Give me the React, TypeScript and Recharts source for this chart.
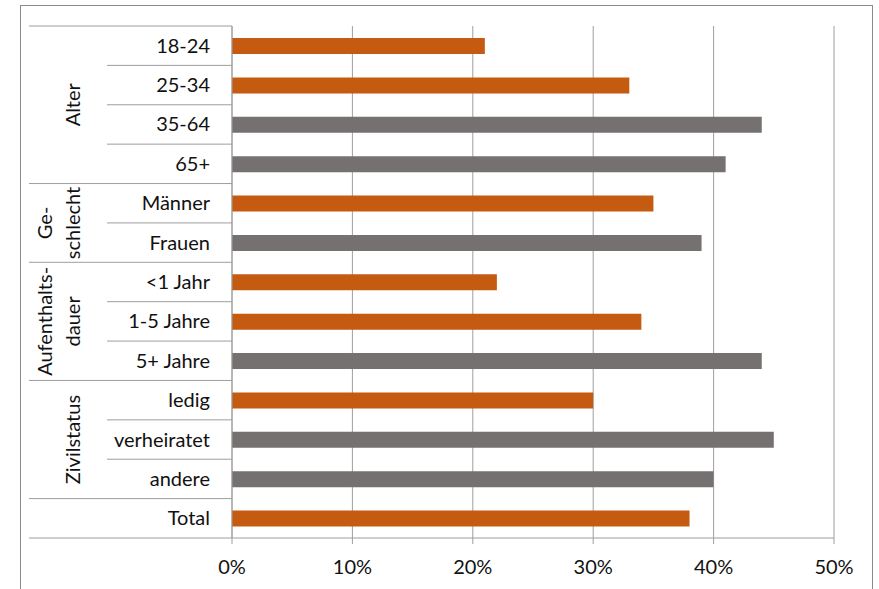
import React from 'react';
import { BarChart, Bar, XAxis, YAxis, CartesianGrid, Cell } from 'recharts';

// Share per respondent group, in percent
const categories = [
  '18-24', '25-34', '35-64', '65+',
  'Männer', 'Frauen',
  '<1 Jahr', '1-5 Jahre', '5+ Jahre',
  'ledig', 'verheiratet', 'andere',
  'Total',
];
const shares = [21, 33, 44, 41, 35, 39, 22, 34, 44, 30, 45, 40, 38];
const highlighted = [true, true, false, false, true, false, true, true, false, true, false, false, true];

// Outer grouping of the category axis (label lines, number of rows)
const groupLabels = [['Alter'], ['Ge-', 'schlecht'], ['Aufenthalts-', 'dauer'], ['Zivilstatus'], []];
const groupSizes = [4, 2, 3, 3, 1];

const xTicks = [0, 10, 20, 30, 40, 50];

const ORANGE = '#C55A11';
const GRAY = '#767171';
const LINE = '#9E9E9E';
const TEXT = '#111111';
const FONT = 'Lato, "Open Sans", sans-serif';
const FONT_SIZE = 20;

const W = 879;
const H = 589;
const AXIS_X = 232;
const OUTER_LEFT = 29;
const INNER_LEFT = 107;
const LABEL_RIGHT = 210;
const GROUP_BASE_X = 73;
const GROUP_LINE_GAP = 28;

const data = categories.map((label, i) => ({ label, value: shares[i] }));

// index of first row -> group index
const groupStarts: Record<number, number> = {};
{
  let acc = 0;
  groupSizes.forEach((s, g) => {
    groupStarts[acc] = g;
    acc += s;
  });
}

function CategoryTick(props: any) {
  const { y, payload, index, height } = props;
  const half =
    payload && typeof payload.offset === 'number' && payload.offset > 0
      ? payload.offset
      : height / (2 * categories.length);
  const top = y - half;
  const g = groupStarts[index];
  const isGroupStart = g !== undefined;
  const isLast = index === categories.length - 1;
  const lines = isGroupStart ? groupLabels[g] : [];
  const groupCenter = isGroupStart ? top + groupSizes[g] * half : 0;

  return (
    <g>
      <line
        x1={isGroupStart ? OUTER_LEFT : INNER_LEFT}
        x2={AXIS_X}
        y1={top}
        y2={top}
        stroke={LINE}
        strokeWidth={1}
      />
      {isLast && (
        <line x1={OUTER_LEFT} x2={AXIS_X} y1={y + half} y2={y + half} stroke={LINE} strokeWidth={1} />
      )}
      <text
        x={LABEL_RIGHT}
        y={y}
        dy="0.35em"
        textAnchor="end"
        fill={TEXT}
        fontSize={FONT_SIZE}
        fontFamily={FONT}
      >
        {payload.value}
      </text>
      {lines.map((t: string, i: number) => {
        const cx = GROUP_BASE_X - (lines.length - 1 - i) * GROUP_LINE_GAP;
        return (
          <text
            key={t}
            x={cx}
            y={groupCenter}
            dy="0.35em"
            textAnchor="middle"
            transform={`rotate(-90 ${cx} ${groupCenter})`}
            fill={TEXT}
            fontSize={FONT_SIZE}
            fontFamily={FONT}
          >
            {t}
          </text>
        );
      })}
    </g>
  );
}

export default function App() {
  return (
    <div style={{ position: 'absolute', left: 0, top: 0, width: W, height: H, background: '#fff', overflow: 'hidden' }}>
      <div
        style={{
          position: 'absolute',
          left: 20,
          top: 5,
          width: 853,
          height: 620,
          border: '1.5px solid #8a8a8a',
          boxSizing: 'border-box',
        }}
      />
      <div style={{ position: 'absolute', left: 0, top: 0 }}>
        <BarChart
          width={W}
          height={H}
          data={data}
          layout="vertical"
          margin={{ top: 26, right: 45, bottom: 11, left: 0 }}
          barCategoryGap={0}
        >
          <CartesianGrid horizontal={false} vertical stroke={LINE} strokeWidth={1} />
          <XAxis
            type="number"
            domain={[0, 50]}
            ticks={xTicks}
            interval={0}
            height={40}
            tickFormatter={(v: number) => `${v}%`}
            axisLine={{ stroke: LINE }}
            tickLine={{ stroke: LINE }}
            tickSize={6}
            tickMargin={16}
            tick={{ fill: TEXT, fontSize: FONT_SIZE, fontFamily: FONT }}
          />
          <YAxis
            type="category"
            dataKey="label"
            width={AXIS_X}
            interval={0}
            axisLine={{ stroke: LINE }}
            tickLine={false}
            tick={<CategoryTick />}
          />
          <Bar dataKey="value" barSize={16} isAnimationActive={false}>
            {data.map((d, i) => (
              <Cell key={d.label} fill={highlighted[i] ? ORANGE : GRAY} />
            ))}
          </Bar>
        </BarChart>
      </div>
    </div>
  );
}
